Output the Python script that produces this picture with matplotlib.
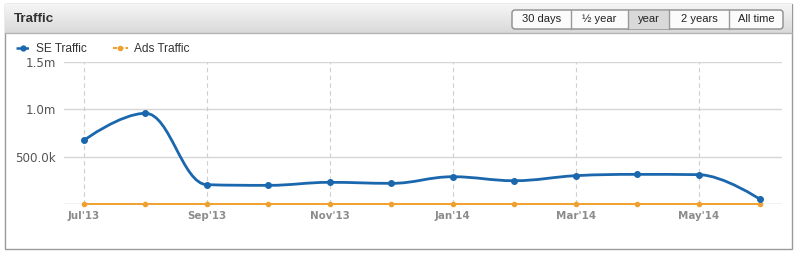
import matplotlib
matplotlib.use("Agg")
import matplotlib.pyplot as plt
from matplotlib.path import Path
from matplotlib.patches import PathPatch, Rectangle, FancyBboxPatch
from matplotlib.lines import Line2D
import numpy as np

plt.rcParams['font.family'] = ['Liberation Sans', 'DejaVu Sans']

months = ["Jul'13", "Aug'13", "Sep'13", "Oct'13", "Nov'13", "Dec'13",
          "Jan'14", "Feb'14", "Mar'14", "Apr'14", "May'14", "Jun'14"]
se_traffic = [673000, 958000, 204000, 197000, 229000, 218000,
              288000, 246000, 299000, 313000, 310000, 50000]
ads_traffic = [0] * 12
buttons = ["30 days", "\u00bd year", "year", "2 years", "All time"]
selected = "year"

BLUE = '#1a67ad'
ORANGE = '#f0a030'
W, H = 798, 257


def spline_path(xs, ys, smoothing=1.5):
    # highcharts-like spline through the points
    n = len(xs)
    verts = [(xs[0], ys[0])]
    codes = [Path.MOVETO]
    right = [(xs[0], ys[0])] * n
    left = [(xs[-1], ys[-1])] * n
    d = smoothing + 1
    for i in range(1, n - 1):
        x, y = xs[i], ys[i]
        lx, ly = xs[i - 1], ys[i - 1]
        nx, ny = xs[i + 1], ys[i + 1]
        lcx = (smoothing * x + lx) / d
        lcy = (smoothing * y + ly) / d
        rcx = (smoothing * x + nx) / d
        rcy = (smoothing * y + ny) / d
        corr = ((rcy - lcy) * (rcx - x)) / (rcx - lcx) + y - rcy
        lcy += corr
        rcy += corr
        if lcy > ly and lcy > y:
            lcy = max(ly, y)
            rcy = 2 * y - lcy
        elif lcy < ly and lcy < y:
            lcy = min(ly, y)
            rcy = 2 * y - lcy
        if rcy > ny and rcy > y:
            rcy = max(ny, y)
            lcy = 2 * y - rcy
        elif rcy < ny and rcy < y:
            rcy = min(ny, y)
            lcy = 2 * y - rcy
        left[i] = (lcx, lcy)
        right[i] = (rcx, rcy)
    for i in range(1, n):
        verts += [right[i - 1], left[i], (xs[i], ys[i])]
        codes += [Path.CURVE4] * 3
    return Path(verts, codes)


fig = plt.figure(figsize=(W / 100, H / 100), dpi=100)
fig.patch.set_facecolor('white')

# background / chrome in pixel coordinates
bg = fig.add_axes([0, 0, 1, 1])
bg.set_xlim(0, W)
bg.set_ylim(H, 0)
bg.axis('off')
bg.add_patch(Rectangle((4.5, 3.5), 787, 245, facecolor='white', edgecolor='#9a9a9a', lw=1))
grad = np.linspace(0, 1, 50).reshape(-1, 1)
bg.imshow(grad, extent=(5, 791.5, 33, 4), cmap=matplotlib.colors.LinearSegmentedColormap.from_list('g', ['#f6f6f6', '#d9d9d9']),
          aspect='auto', zorder=1)
bg.plot([5, 791.5], [33, 33], color='#b5b5b5', lw=1, zorder=2)
bg.text(14, 19, "Traffic", fontsize=9.6, fontweight='bold', color='#333333', va='center', ha='left', zorder=3)

edges = [512, 571, 628, 669, 729, 783]
bg.add_patch(FancyBboxPatch((edges[0], 10), edges[-1] - edges[0], 19,
                            boxstyle='round,pad=0,rounding_size=3', facecolor='#fbfbfb',
                            edgecolor='#8c8c8c', lw=1, zorder=3))
for i, label in enumerate(buttons):
    x0, x1 = edges[i], edges[i + 1]
    if label == selected:
        bg.add_patch(Rectangle((x0, 10.5), x1 - x0, 18, facecolor='#d9d9d9', edgecolor='none', zorder=4))
    if i > 0:
        bg.plot([x0, x0], [10, 29], color='#9a9a9a', lw=1, zorder=5)
    bg.text((x0 + x1) / 2, 19.5, label, fontsize=8, color='#222222', ha='center', va='center', zorder=6)

# chart axes
ax = fig.add_axes([64 / W, (H - 204) / H, 718 / W, 142 / H])
xs = np.arange(len(months))
step = (760 - 84) / 11
ax.set_xlim(-20 / step, 11 + 22 / step)
ax.set_ylim(0, 1.5e6)

ax.add_patch(PathPatch(spline_path(list(xs), se_traffic), facecolor='none', edgecolor=BLUE, lw=2, zorder=4))
ax.plot(xs, se_traffic, 'o', color=BLUE, ms=4, zorder=5)
ax.plot(xs, ads_traffic, '-o', color=ORANGE, lw=1.4, ms=3, zorder=4, clip_on=False)

ax.set_yticks([0, 500000, 1000000, 1500000])
ax.set_yticklabels(['', '500.0k', '1.0m', '1.5m'], fontsize=8.6, color='#555555',
                   family=['DejaVu Sans'])
ax.set_xticks(xs[::2])
ax.set_xticklabels(months[::2], fontsize=7.4, fontweight='bold', color='#8c8c8c',
                   family=['DejaVu Sans'])
ax.tick_params(axis='y', length=0, pad=6)
ax.tick_params(axis='x', length=0, pad=5)
for v in [500000, 1000000, 1500000]:
    ax.axhline(v, color='#d6d6d6', lw=1, zorder=1)
for x in xs[::2]:
    ax.axvline(x, color='#cfcfcf', lw=0.8, ls=(0, (4, 3)), zorder=1)
ax.axhline(0, color='#c0c0c0', lw=1, zorder=2)
for s in ax.spines.values():
    s.set_visible(False)
ax.set_facecolor('none')

handles = [Line2D([], [], color=BLUE, lw=1.8, ls=(0, (2, 1)), marker='o', ms=3.5),
           Line2D([], [], color=ORANGE, lw=1.5, ls=(0, (2, 1)), marker='o', ms=3)]
fig.legend(handles, ['SE Traffic', 'Ads Traffic'], loc='center left',
           bbox_to_anchor=(5 / W, 1 - 49 / H), ncol=2, frameon=False, fontsize=8.6,
           handlelength=1.2, handletextpad=0.5, columnspacing=2.2, labelcolor='#333333')

fig.savefig('out.png', dpi=100)
